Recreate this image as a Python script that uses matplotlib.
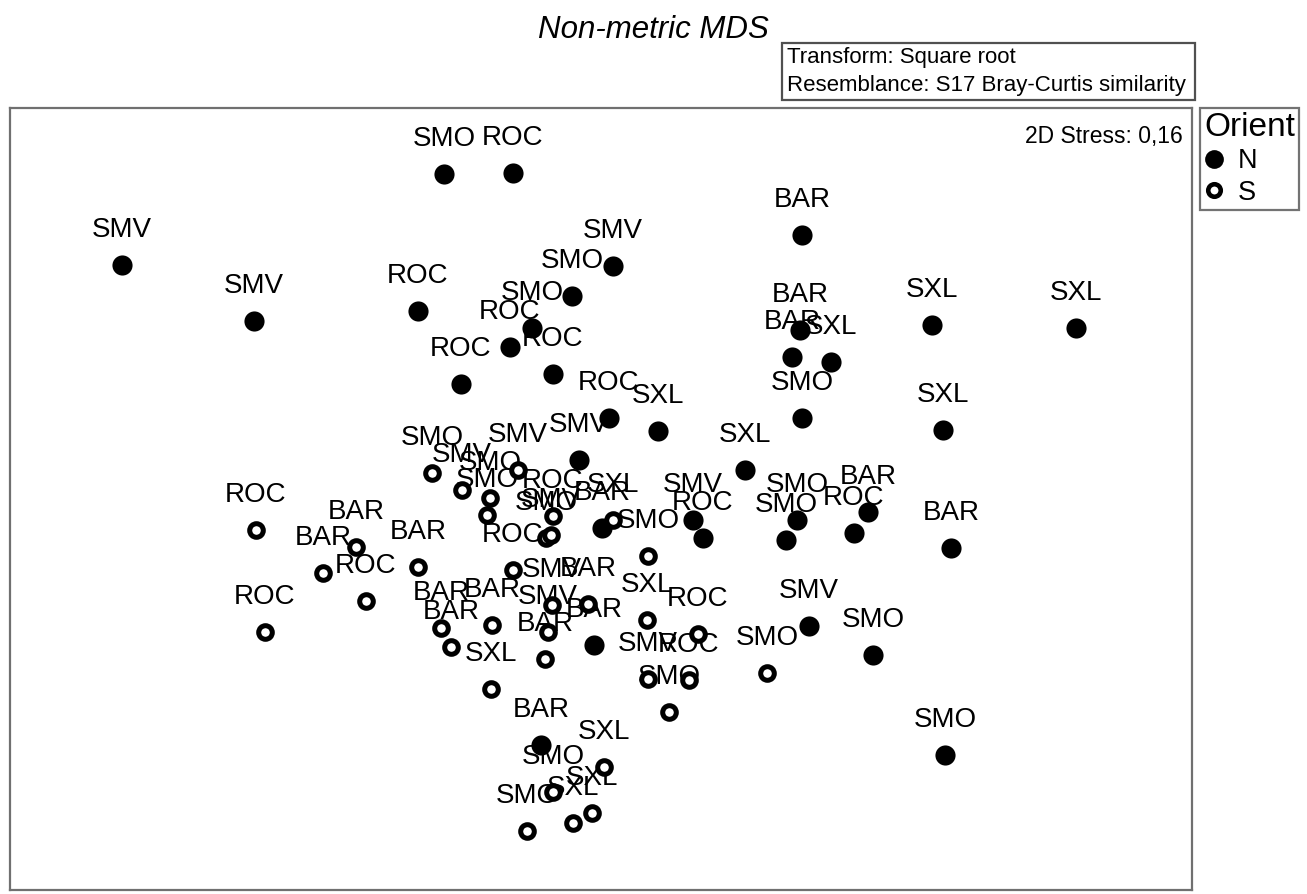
import numpy as np
import matplotlib
matplotlib.use('agg')
import matplotlib.pyplot as plt
from matplotlib.lines import Line2D
from matplotlib.patches import Rectangle

plt.rcParams['font.family'] = ['Liberation Sans', 'DejaVu Sans']

# MDS configuration, Orient = N (filled)
labels_N = ['SMO', 'ROC', 'SMV', 'BAR', 'SMV', 'SMV', 'SMO', 'ROC', 'SMO', 'ROC', 'ROC', 'ROC',
            'BAR', 'BAR', 'SXL', 'SXL', 'SXL', 'SMO', 'SXL', 'ROC', 'SXL', 'SXL', 'SMV', 'BAR',
            'SMV', 'ROC', 'SMO', 'SMO', 'BAR', 'ROC', 'BAR', 'SMV', 'SMO', 'BAR', 'BAR', 'SMO']
x_N = [-1.56, -0.87, -4.78, 2.02, 0.13, -3.46, -0.28, -1.82, -0.68, -0.90, -0.47, -1.39,
       2.00, 1.92, 2.31, 3.32, 4.76, 2.02, 3.43, 0.09, 0.58, 1.45, -0.21, 0.02,
       0.93, 1.03, 1.97, 1.86, 2.68, 2.54, 3.51, 2.09, 2.73, -0.06, -0.59, 3.45]
y_N = [3.26, 3.27, 2.35, 2.65, 2.34, 1.79, 2.04, 1.89, 1.72, 1.53, 1.26, 1.16,
       1.70, 1.43, 1.38, 1.75, 1.72, 0.82, 0.70, 0.82, 0.69, 0.30, 0.40, -0.28,
       -0.20, -0.38, -0.20, -0.40, -0.12, -0.33, -0.48, -1.26, -1.55, -1.45, -2.45, -2.55]

# Orient = S (open)
labels_S = ['ROC', 'BAR', 'BAR', 'ROC', 'BAR', 'ROC', 'SMO', 'SMV', 'SMO', 'SMO', 'SMV', 'ROC',
            'SMO', 'SMV', 'SXL', 'ROC', 'SMV', 'BAR', 'SMO', 'BAR', 'BAR', 'SMV', 'BAR', 'BAR',
            'SXL', 'SXL', 'ROC', 'SMV', 'ROC', 'SMO', 'SMO', 'SXL', 'SMO', 'SXL', 'SXL', 'SMO']
x_S = [-3.44, -2.44, -2.77, -2.34, -1.82, -3.35, -1.68, -1.38, -1.10, -1.13, -0.82, -0.47,
       -0.54, -0.49, 0.13, -0.87, -0.48, -0.12, 0.48, -1.59, -1.08, -0.52, -1.49, -0.55,
       -1.09, 0.47, 0.98, 0.48, 0.89, 0.69, 1.67, 0.04, -0.47, -0.08, -0.27, -0.73]
y_S = [-0.30, -0.47, -0.73, -1.01, -0.67, -1.32, 0.27, 0.10, 0.02, -0.15, 0.30, -0.16,
       -0.38, -0.35, -0.20, -0.70, -1.05, -1.04, -0.56, -1.28, -1.25, -1.32, -1.47, -1.59,
       -1.89, -1.20, -1.34, -1.79, -1.80, -2.12, -1.73, -2.67, -2.92, -3.13, -3.23, -3.31]

W, H = 1307, 894
fig = plt.figure(figsize=(W / 100, H / 100), dpi=100)
ax = fig.add_axes([10 / W, 1 - 890 / H, (1192 - 10) / W, (890 - 108) / H])
ax.set_xlim(-5.90, 5.92)
ax.set_ylim(-3.90, 3.92)
ax.set_xticks([])
ax.set_yticks([])
for s in ax.spines.values():
    s.set_color('#707070')
    s.set_linewidth(1.6)

lab_fs = 20
for lab, x, y in list(zip(labels_N, x_N, y_N)) + list(zip(labels_S, x_S, y_S)):
    ax.annotate(lab, (x, y), xytext=(0, 25.5), textcoords='offset points',
                ha='center', va='center', fontsize=lab_fs, zorder=2)

ax.plot(x_N, y_N, 'o', ms=14.5, mfc='black', mec='black', mew=0, ls='none', zorder=3)
ax.plot(x_S, y_S, 'o', ms=9.8, mfc='white', mec='black', mew=3.6, ls='none', zorder=3)

ax.text(0.992, 0.978, '2D Stress: 0,16', transform=ax.transAxes, ha='right', va='top',
        fontsize=16.5)

# title and info box
fig.text(653 / W, 1 - 30 / H, 'Non-metric MDS', ha='center', va='center',
         fontsize=22.5, style='italic')
fig.patches.append(Rectangle((782 / W, 1 - 100 / H), (1195 - 782) / W, 57 / H,
                             transform=fig.transFigure, fill=False,
                             edgecolor='#505050', linewidth=1.6))
fig.text(787 / W, 1 - 58 / H, 'Transform: Square root', ha='left', va='center',
         fontsize=16)
fig.text(787 / W, 1 - 86 / H, 'Resemblance: S17 Bray-Curtis similarity', ha='left',
         va='center', fontsize=16)

# legend
handles = [Line2D([], [], marker='o', ls='none', ms=13.5, mfc='black', mec='black', mew=0),
           Line2D([], [], marker='o', ls='none', ms=9, mfc='white', mec='black', mew=3.3)]
leg = ax.legend(handles, ['N', 'S'], title='Orient', loc='upper left',
                bbox_to_anchor=(1.007, 1.0), fontsize=19.5, title_fontsize=24,
                frameon=True, fancybox=False, borderpad=0.15, handlelength=0.7,
                handletextpad=0.55, labelspacing=0.2, borderaxespad=0)
leg.get_frame().set_edgecolor('#505050')
leg.get_frame().set_linewidth(1.6)
leg._legend_box.align = 'left'

fig.savefig('out.png', dpi=100, facecolor='white')
